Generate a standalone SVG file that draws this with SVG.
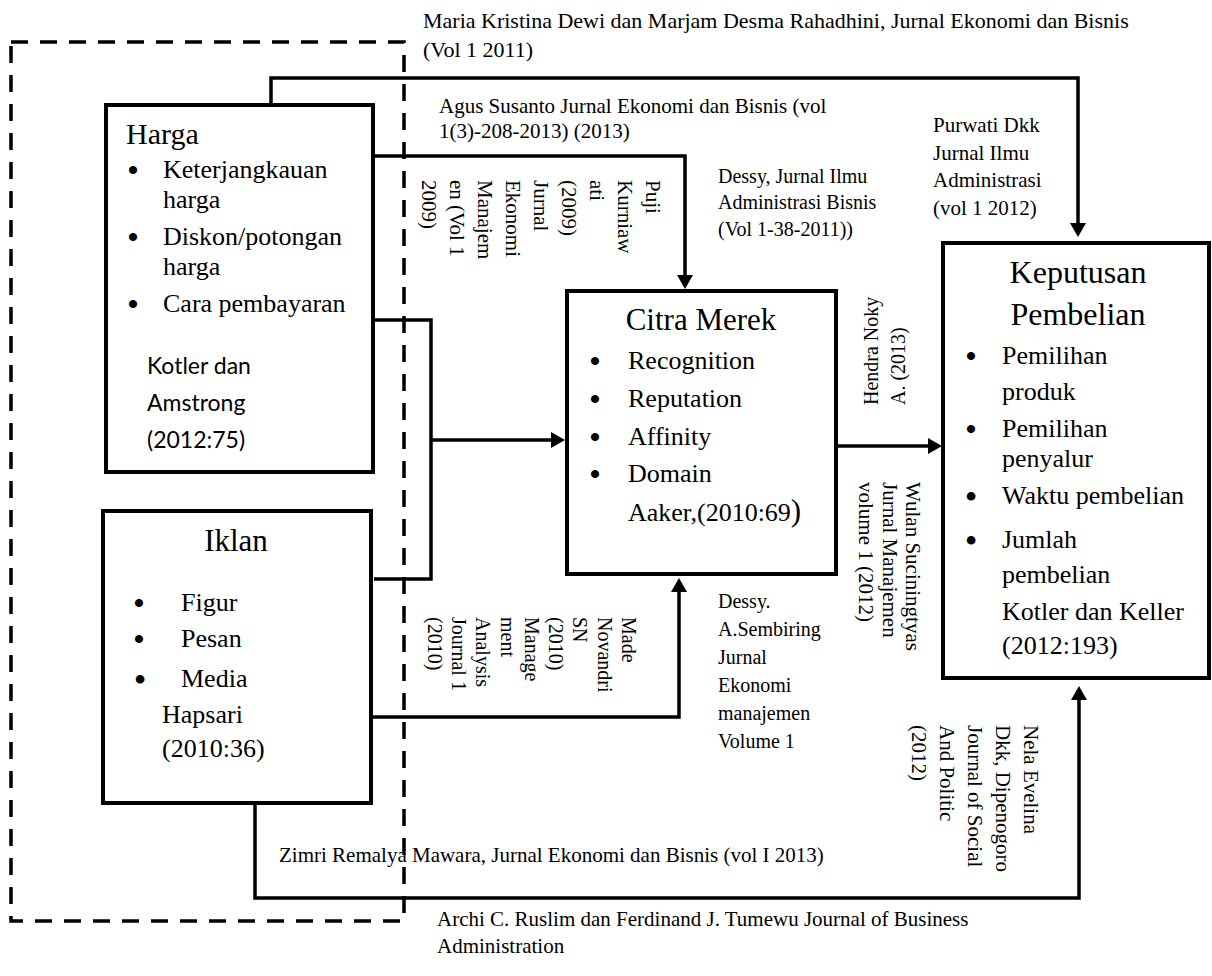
<svg xmlns="http://www.w3.org/2000/svg" width="1212" height="976" viewBox="0 0 1212 976">
<defs>
<marker id="ah" viewBox="0 0 14 16" refX="4" refY="8" markerWidth="14" markerHeight="16" markerUnits="userSpaceOnUse" orient="auto"><path d="M0,0 L14,8 L0,16 z" fill="#000"/></marker>
<style>
.box{fill:#fff;stroke:#000;stroke-width:4}
.c{fill:none;stroke:#000;stroke-width:3.5}
.dash{fill:none;stroke:#000;stroke-width:3.5;stroke-dasharray:17 12}
text{font-family:"Liberation Serif","Times New Roman",serif;fill:#000}
.sans{font-family:Lato,"Open Sans","Liberation Sans",sans-serif}
.s20{font-size:20px}
.s21{font-size:21px}
.s26{font-size:26px}
.b{font-size:30px;font-weight:bold;text-anchor:middle}
.bb{font-size:32px;font-weight:bold;text-anchor:middle}
.mid{text-anchor:middle}
</style>
</defs>
<rect width="1212" height="976" fill="#fff"/>
<rect class="dash" x="11" y="42" width="393" height="879"/>

<g id="connectors">
<path class="c" d="M271,105 V78 H1078 V227" marker-end="url(#ah)"/>
<path class="c" d="M373,156 H685 V279" marker-end="url(#ah)"/>
<path class="c" d="M373,320 H431 V579 H374"/>
<path class="c" d="M431,440 H555" marker-end="url(#ah)"/>
<path class="c" d="M371,717 H679 V588" marker-end="url(#ah)"/>
<path class="c" d="M836,446 H932" marker-end="url(#ah)"/>
<path class="c" d="M255,803 V898 H1079 V696" marker-end="url(#ah)"/>
</g>

<g id="harga">
<rect class="box" x="106" y="105" width="267" height="367"/>
<text x="126" y="144" style="font-size:30px">Harga</text>
<text class="b" x="133" y="180">•</text>
<text class="s26" x="163" y="178">Keterjangkauan</text>
<text class="s26" x="163" y="208">harga</text>
<text class="b" x="133" y="247">•</text>
<text class="s26" x="163" y="245">Diskon/potongan</text>
<text class="s26" x="163" y="275">harga</text>
<text class="b" x="133" y="314">•</text>
<text class="s26" x="163" y="312">Cara pembayaran</text>
<text class="sans" x="147" y="374" style="font-size:23px">Kotler dan</text>
<text class="sans" x="147" y="411" style="font-size:23px">Amstrong</text>
<text class="sans" x="147" y="448" style="font-size:23px">(2012:75)</text>
</g>

<g id="iklan">
<rect class="box" x="103" y="511" width="268" height="292"/>
<text class="mid" x="236" y="551" style="font-size:31px">Iklan</text>
<text class="b" x="139" y="613">•</text>
<text class="s26" x="181" y="611">Figur</text>
<text class="b" x="139" y="649">•</text>
<text class="s26" x="181" y="647">Pesan</text>
<text class="bb" x="140" y="690">•</text>
<text class="s26" x="181" y="687">Media</text>
<text class="s26" x="162" y="723">Hapsari</text>
<text class="s26" x="162" y="757">(2010:36)</text>
</g>

<g id="citra">
<rect class="box" x="567" y="291" width="269" height="283"/>
<text class="mid" x="701" y="330" style="font-size:31px">Citra Merek</text>
<text class="b" x="595" y="371">•</text>
<text class="s26" x="628" y="369">Recognition</text>
<text class="b" x="595" y="409">•</text>
<text class="s26" x="628" y="407">Reputation</text>
<text class="b" x="595" y="447">•</text>
<text class="s26" x="628" y="445">Affinity</text>
<text class="b" x="595" y="484">•</text>
<text class="s26" x="628" y="482">Domain</text>
<text class="s26" x="628" y="521">Aaker,(2010:69<tspan style="font-size:31px">)</tspan></text>
</g>

<g id="keputusan">
<rect class="box" x="943" y="243" width="266" height="435"/>
<text class="mid" x="1078" y="283" style="font-size:32px">Keputusan</text>
<text class="mid" x="1078" y="325" style="font-size:32px">Pembelian</text>
<text class="b" x="971" y="366">•</text>
<text class="s26" x="1002" y="364">Pemilihan</text>
<text class="s26" x="1002" y="400">produk</text>
<text class="b" x="971" y="439">•</text>
<text class="s26" x="1002" y="437">Pemilihan</text>
<text class="s26" x="1002" y="467">penyalur</text>
<text class="bb" x="971" y="507">•</text>
<text class="s26" x="1002" y="504">Waktu pembelian</text>
<text class="bb" x="971" y="551">•</text>
<text class="s26" x="1002" y="548">Jumlah</text>
<text class="s26" x="1002" y="583">pembelian</text>
<text class="s26" x="1002" y="620">Kotler dan Keller</text>
<text class="s26" x="1002" y="654">(2012:193)</text>
</g>

<g id="labels">
<text x="423" y="28" style="font-size:22px">Maria Kristina Dewi dan Marjam Desma Rahadhini, Jurnal Ekonomi dan Bisnis</text>
<text x="423" y="57" style="font-size:22px">(Vol 1 2011)</text>
<text class="s21" x="439" y="113">Agus Susanto Jurnal Ekonomi  dan Bisnis (vol</text>
<text class="s21" x="439" y="138">1(3)-208-2013) (2013)</text>
<text class="s21" x="933" y="132">Purwati Dkk</text>
<text class="s21" x="933" y="160">Jurnal Ilmu</text>
<text class="s21" x="933" y="187">Administrasi</text>
<text class="s21" x="933" y="215">(vol 1 2012)</text>
<text class="s20" x="718" y="183">Dessy, Jurnal Ilmu</text>
<text class="s20" x="718" y="209">Administrasi Bisnis</text>
<text class="s20" x="718" y="236">(Vol 1-38-2011))</text>
<text class="s20" x="718" y="608">Dessy.</text>
<text class="s20" x="718" y="636">A.Sembiring</text>
<text class="s20" x="718" y="664">Jurnal</text>
<text class="s20" x="718" y="692">Ekonomi</text>
<text class="s20" x="718" y="720">manajemen</text>
<text class="s20" x="718" y="748">Volume 1</text>
<text class="s21" x="279" y="862">Zimri Remalya Mawara, Jurnal Ekonomi dan Bisnis  (vol I 2013)</text>
<text class="s21" x="437" y="926">Archi C. Ruslim dan Ferdinand J. Tumewu Journal of Business</text>
<text class="s21" x="437" y="953">Administration</text>

<text class="s21" transform="translate(646,180) rotate(90)"><tspan x="0" y="0">Puji</tspan><tspan x="0" y="28">Kurniaw</tspan><tspan x="0" y="56">ati</tspan><tspan x="0" y="84">(2009)</tspan><tspan x="0" y="112">Jurnal</tspan><tspan x="0" y="140">Ekonomi</tspan><tspan x="0" y="168">Manajem</tspan><tspan x="0" y="196">en (Vol 1</tspan><tspan x="0" y="224">2009)</tspan></text>

<text class="s20" transform="translate(622,617) rotate(90)"><tspan x="0" y="0">Made</tspan><tspan x="0" y="24.3">Novandri</tspan><tspan x="0" y="48.6">SN</tspan><tspan x="0" y="72.9">(2010)</tspan><tspan x="0" y="97.2">Manage</tspan><tspan x="0" y="121.5">ment</tspan><tspan x="0" y="145.8">Analysis</tspan><tspan x="0" y="170.1">Journal 1</tspan><tspan x="0" y="194.4">(2010)</tspan></text>

<text class="s20" transform="translate(878,405) rotate(-90)"><tspan x="0" y="0">Hendra Noky</tspan><tspan x="0" y="27">A. (2013)</tspan></text>

<text class="s21" transform="translate(906,482) rotate(90)"><tspan x="0" y="0">Wulan Suciningtyas</tspan><tspan x="0" y="23.5">Jurnal Manajemen</tspan><tspan x="0" y="47">volume 1 (2012)</tspan></text>

<text class="s21" transform="translate(1024,725) rotate(90)"><tspan x="0" y="0">Nela Evelina</tspan><tspan x="0" y="28">Dkk, Dipenogoro</tspan><tspan x="0" y="56">Journal of Social</tspan><tspan x="0" y="84">And Politic</tspan><tspan x="0" y="112">(2012)</tspan></text>
</g>
</svg>
